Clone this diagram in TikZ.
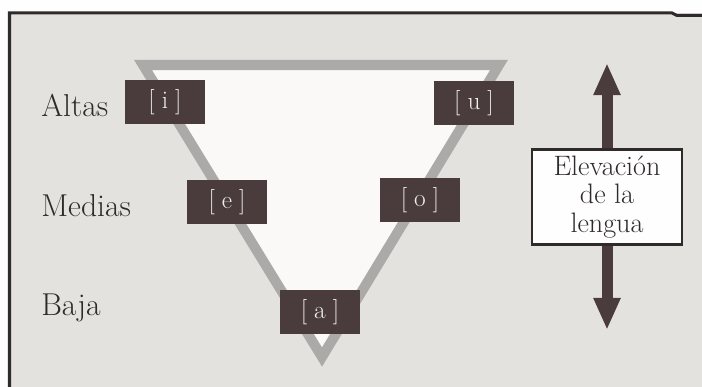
\documentclass[tikz,border=0pt]{standalone}
\usepackage{fontspec}
\usepackage{tikz}
\usepackage{xcolor}
\usetikzlibrary{arrows.meta,positioning}
\definecolor{vowbox}{RGB}{74,60,60}
\definecolor{paper}{RGB}{228,226,223}
\definecolor{trigray}{RGB}{172,170,168}
\definecolor{trifill}{RGB}{250,249,247}
\definecolor{inkgray}{RGB}{48,43,43}

\begin{document}
\begin{tikzpicture}[
    x=0.025cm, y=-0.025cm,
    vowel/.style={rectangle, fill=vowbox, text=white!92!vowbox, minimum width=2cm, minimum height=1.1cm, inner sep=0pt, font=\fontsize{18}{21}\selectfont},
    rowlabel/.style={anchor=base west, inner sep=0pt, text=inkgray, font=\fontsize{22.5}{26}\selectfont},
    axisbox/.style={rectangle, draw=inkgray, line width=0.06cm, fill=white!96!paper, minimum width=3.75cm, minimum height=2.375cm, align=center, text=inkgray, font=\fontsize{20}{20}\selectfont},
    elevarrow/.style={draw=vowbox, line width=0.275cm, -{Triangle[width=0.625cm,length=0.8cm]}}
]
\useasboundingbox (0,0) rectangle (702,387);

% Background and frame
\fill[white!96!paper] (0,0) rectangle (702,387);
\fill[paper] (9,13) rectangle (702,387);
\draw[inkgray, line width=0.075cm] (9.5,387) -- (9.5,13) -- (672,13) -- (677,15.5) -- (702,15.5);

% Triangle
\draw[trigray, line width=0.25cm, fill=trifill] (143,65) -- (499,65) -- (322,357) -- cycle;

% Vowels
\node[vowel] (i) at (165,102) {[\;i\;]};
\node[vowel] (u) at (474,103) {[\;u\;]};
\node[vowel] (e) at (227,202) {[\;e\;]};
\node[vowel] (o) at (420,200) {[\;o\;]};
\node[vowel] (a) at (320,312) {[\;a\;]};

% Heights
\node[rowlabel] (altas) at (41,116) {Altas};
\node[rowlabel] (medias) at (41,216) {Medias};
\node[rowlabel] (baja) at (41,315) {Baja};

% Tongue height
\node[axisbox] (elev) at (607,197) {Elevación\\de la\\lengua};
\coordinate (up) at (607,63);
\coordinate (down) at (607,330);
\draw[elevarrow] (elev.north) -- (up);
\draw[elevarrow] (elev.south) -- (down);

\end{tikzpicture}
\end{document}
